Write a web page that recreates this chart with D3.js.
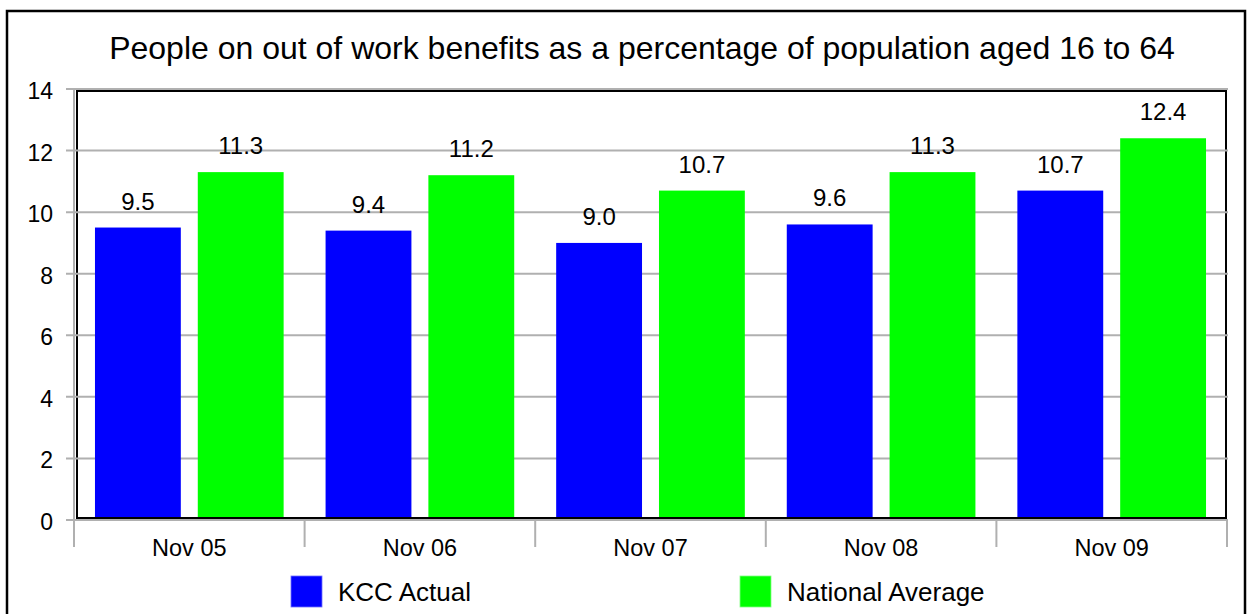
<!DOCTYPE html>
<html>
<head>
<meta charset="utf-8">
<script src="https://cdn.jsdelivr.net/npm/d3@7"></script>
<style>
  html, body { margin: 0; padding: 0; background: #fff; }
  svg { display: block; font-family: "Liberation Sans", Arial, sans-serif; }
</style>
</head>
<body>
<svg id="chart" width="1248" height="614"></svg>
<script>
const title = "People on out of work benefits as a percentage of population aged 16 to 64";
const categories = ["Nov 05", "Nov 06", "Nov 07", "Nov 08", "Nov 09"];
const seriesNames = ["KCC Actual", "National Average"];
const kccActual = [9.5, 9.4, 9.0, 9.6, 10.7];
const nationalAverage = [11.3, 11.2, 10.7, 11.3, 12.4];
const yTicks = [0, 2, 4, 6, 8, 10, 12, 14];
const colors = ["#0000ff", "#00ff00"];

const seriesValues = [kccActual, nationalAverage];
const data = categories.map((c, i) => ({
  cat: c,
  vals: seriesNames.map((s, j) => ({ series: s, idx: j, value: seriesValues[j][i] }))
}));

const svg = d3.select("#chart");

// outer frame
svg.append("rect").attr("x", 7).attr("y", 11).attr("width", 1238).attr("height", 640)
  .attr("fill", "none").attr("stroke", "#000").attr("stroke-width", 2.5);

const x = d3.scaleBand().domain(categories).range([74, 1227]).paddingInner(0).paddingOuter(0);
const x1 = d3.scaleBand().domain(seriesNames).range([0, x.bandwidth()]).paddingInner(0.165).paddingOuter(0.204);
const y = d3.scaleLinear().domain([0, 14]).range([520, 89]);

// title
svg.append("text").attr("x", 642).attr("y", 59).attr("text-anchor", "middle")
  .attr("font-size", 32).attr("fill", "#000").text(title);

// plot frame (black)
svg.append("rect").attr("x", 77).attr("y", 91).attr("width", 1149).attr("height", 427)
  .attr("fill", "#fff").attr("stroke", "#000").attr("stroke-width", 2);

// gridlines
svg.append("g").selectAll("line").data(yTicks.filter(t => t > 0)).join("line")
  .attr("x1", 66).attr("x2", 1228)
  .attr("y1", d => y(d)).attr("y2", d => y(d))
  .attr("stroke", "#b0b0b0").attr("stroke-width", 2);

// bars
const groups = svg.append("g").selectAll("g").data(data).join("g")
  .attr("transform", d => `translate(${x(d.cat)},0)`);
groups.selectAll("rect").data(d => d.vals).join("rect")
  .attr("x", d => x1(d.series))
  .attr("width", x1.bandwidth())
  .attr("y", d => y(d.value))
  .attr("height", d => y(0) - y(d.value))
  .attr("fill", d => colors[d.idx]);
groups.selectAll("text").data(d => d.vals).join("text")
  .attr("x", d => x1(d.series) + x1.bandwidth() / 2)
  .attr("y", d => y(d.value) - 18)
  .attr("text-anchor", "middle")
  .attr("font-size", 24)
  .text(d => d.value.toFixed(1));

// black bottom line of plot
svg.append("line").attr("x1", 77).attr("x2", 1226).attr("y1", 518).attr("y2", 518)
  .attr("stroke", "#000").attr("stroke-width", 2);

// x axis (gray)
svg.append("line").attr("x1", 66).attr("x2", 1228).attr("y1", y(0)).attr("y2", y(0))
  .attr("stroke", "#b0b0b0").attr("stroke-width", 2);
const xTickPos = categories.map(c => x(c)).concat([x.range()[1]]);
svg.append("g").selectAll("line").data(xTickPos).join("line")
  .attr("x1", d => d).attr("x2", d => d).attr("y1", y(0)).attr("y2", 547)
  .attr("stroke", "#b0b0b0").attr("stroke-width", 2);
svg.append("g").selectAll("text").data(categories).join("text")
  .attr("x", d => x(d) + x.bandwidth() / 2).attr("y", 556)
  .attr("text-anchor", "middle").attr("font-size", 23.5).text(d => d);

// y axis (gray)
svg.append("line").attr("x1", 74).attr("x2", 74).attr("y1", y(14)).attr("y2", y(0))
  .attr("stroke", "#b0b0b0").attr("stroke-width", 2);
svg.append("g").selectAll("text").data(yTicks).join("text")
  .attr("x", 53).attr("y", d => y(d) + 10)
  .attr("text-anchor", "end").attr("font-size", 23).text(d => d);

// legend
const legendX = [291, 740];
const leg = svg.append("g").selectAll("g").data(seriesNames).join("g")
  .attr("transform", (d, i) => `translate(${legendX[i]},576)`);
leg.append("rect").attr("width", 31).attr("height", 31).attr("fill", (d, i) => colors[i])
  .attr("stroke", (d, i) => i === 0 ? "#6f6fff" : "#80ff80").attr("stroke-width", 0.8);
leg.append("text").attr("x", 47).attr("y", 25).attr("font-size", 26).text(d => d);
</script>
</body>
</html>
